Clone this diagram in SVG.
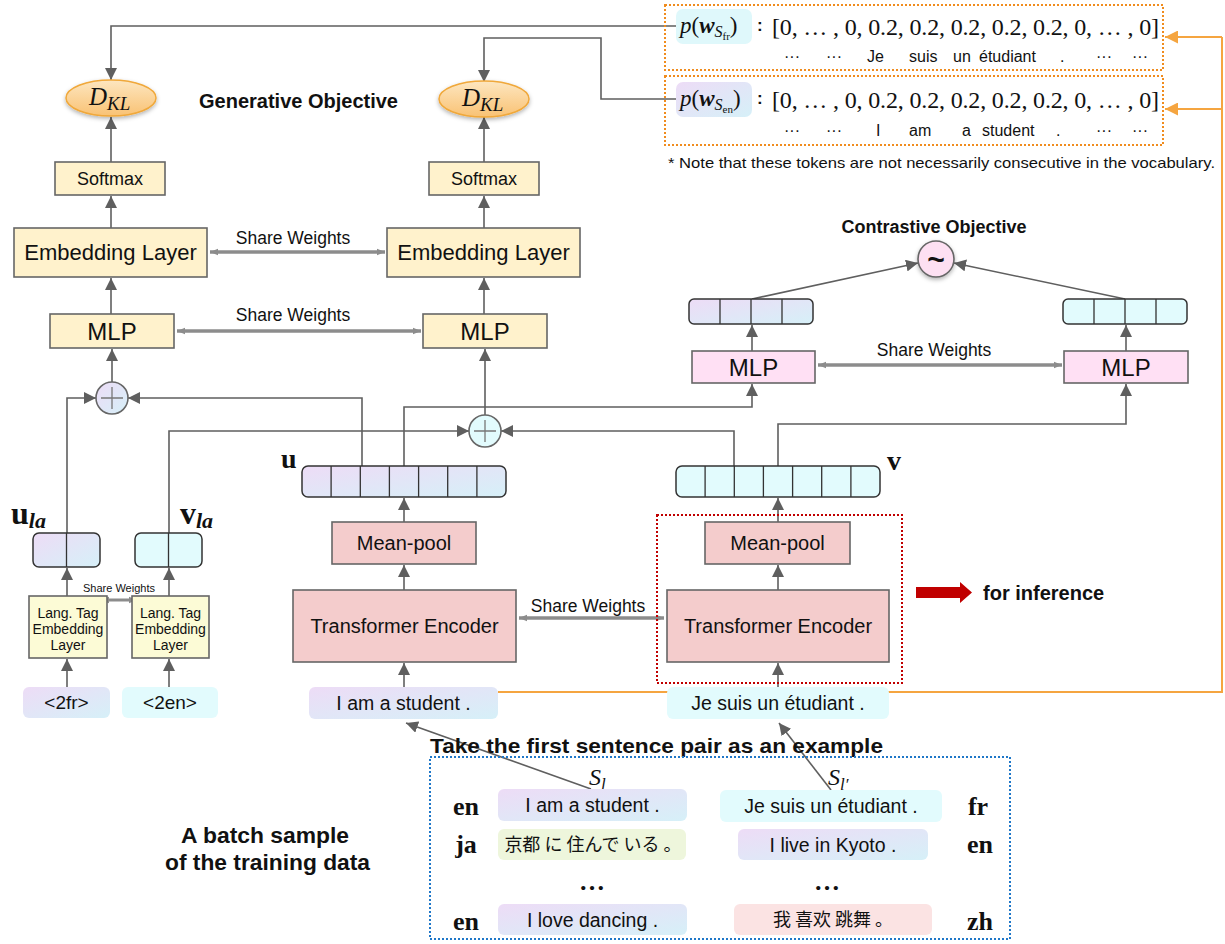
<svg xmlns="http://www.w3.org/2000/svg" width="1225" height="944" viewBox="0 0 1225 944">
<defs>
<style>
.sans{font-family:"Liberation Sans",Arial,sans-serif;fill:#111}
.serif{font-family:"Liberation Serif","Times New Roman",serif;fill:#111}
.cjk{font-family:"Noto Sans CJK JP","Noto Sans CJK SC",sans-serif;fill:#111}
.bold{font-weight:bold}
.mid{text-anchor:middle}
.conn{fill:none;stroke:#5f5f5f;stroke-width:1.6}
.arr{marker-end:url(#ah)}
.share{fill:none;stroke:#8c8c8c;stroke-width:3.5;marker-start:url(#sh);marker-end:url(#sh)}
.orange{fill:none;stroke:#f5a540;stroke-width:2}
.ybox{fill:#fff2cc;stroke:#666;stroke-width:1.6}
.lbox{fill:#fcfbd6;stroke:#666;stroke-width:1.6}
.pbox{fill:#f4cccc;stroke:#666;stroke-width:1.6}
.mbox{fill:#ffe0f4;stroke:#666;stroke-width:1.6}
.vec{stroke:#333;stroke-width:1.5}
.cell{stroke:#333;stroke-width:1.3}
.grad{fill:url(#lc)}
.cyan{fill:#e2fbfd}
</style>
<marker id="ah" viewBox="0 0 10 10" refX="10" refY="5" markerWidth="12" markerHeight="12" markerUnits="userSpaceOnUse" orient="auto"><path d="M0,0 L10,5 L0,10 z" fill="#5f5f5f"/></marker>
<marker id="oh" viewBox="0 0 10 10" refX="10" refY="5" markerWidth="13" markerHeight="13" markerUnits="userSpaceOnUse" orient="auto"><path d="M0,0 L10,5 L0,10 z" fill="#f5a540"/></marker>
<marker id="sh" viewBox="0 0 10 10" refX="10" refY="5" markerWidth="8" markerHeight="8" markerUnits="userSpaceOnUse" orient="auto-start-reverse"><path d="M0,1 L10,5 L0,9 z" fill="#8c8c8c"/></marker>
<linearGradient id="lc" x1="0" y1="0" x2="1" y2="1"><stop offset="0" stop-color="#eddcf6"/><stop offset="1" stop-color="#d6f0f8"/></linearGradient>
<linearGradient id="org" x1="0" y1="0" x2="0" y2="1"><stop offset="0" stop-color="#fde6c0"/><stop offset="1" stop-color="#f9c274"/></linearGradient>
<filter id="sd" x="-30%" y="-30%" width="160%" height="180%"><feDropShadow dx="0" dy="2" stdDeviation="2" flood-color="#000" flood-opacity="0.3"/></filter>
</defs>

<!-- connectors -->
<g id="connectors">
<polyline class="conn arr" points="676,26 111,26 111,80"/>
<polyline class="conn arr" points="676,99 601,99 601,38 484,38 484,82"/>
<line class="conn arr" x1="111" y1="162" x2="111" y2="117"/>
<line class="conn arr" x1="484" y1="162" x2="484" y2="117"/>
<line class="conn arr" x1="111" y1="228" x2="111" y2="196"/>
<line class="conn arr" x1="484" y1="228" x2="484" y2="196"/>
<line class="conn arr" x1="111" y1="314" x2="111" y2="278"/>
<line class="conn arr" x1="484" y1="314" x2="484" y2="278"/>
<line class="conn arr" x1="112" y1="382" x2="112" y2="349"/>
<line class="conn arr" x1="485" y1="415" x2="485" y2="349"/>
<polyline class="conn arr" points="67,533 67,398 96,398"/>
<polyline class="conn arr" points="362,466 362,398 128,398"/>
<polyline class="conn arr" points="169,533 169,431 469,431"/>
<polyline class="conn arr" points="734,466 734,431 501,431"/>
<polyline class="conn arr" points="404,466 404,407 752,407 752,384"/>
<polyline class="conn arr" points="778,466 778,424 1126,424 1126,384"/>
<line class="conn arr" x1="752" y1="351" x2="752" y2="325"/>
<line class="conn arr" x1="1126" y1="351" x2="1126" y2="325"/>
<line class="conn arr" x1="752" y1="299" x2="918" y2="263"/>
<line class="conn arr" x1="1125" y1="299" x2="954" y2="263"/>
<line class="conn arr" x1="404" y1="522" x2="404" y2="498"/>
<line class="conn arr" x1="778" y1="522" x2="778" y2="498"/>
<line class="conn arr" x1="404" y1="590" x2="404" y2="565"/>
<line class="conn arr" x1="778" y1="590" x2="778" y2="565"/>
<line class="conn arr" x1="404" y1="687" x2="404" y2="663"/>
<line class="conn arr" x1="778" y1="687" x2="778" y2="663"/>
<line class="conn arr" x1="67" y1="596" x2="67" y2="568"/>
<line class="conn arr" x1="169" y1="596" x2="169" y2="568"/>
<line class="conn arr" x1="67" y1="687" x2="67" y2="659"/>
<line class="conn arr" x1="169" y1="687" x2="169" y2="659"/>
<line class="conn arr" x1="591" y1="789" x2="406" y2="723"/>
<line class="conn arr" x1="831" y1="790" x2="779" y2="723"/>
<line class="share" x1="210" y1="252" x2="385" y2="252"/>
<line class="share" x1="177" y1="331" x2="421" y2="331"/>
<line class="share" x1="818" y1="365" x2="1062" y2="365"/>
<line class="share" x1="519" y1="618" x2="664" y2="618"/>
<line class="share" x1="101" y1="600" x2="137" y2="600" style="stroke-width:3"/>
<polyline class="orange" points="498,692 1222,692 1222,37"/>
<line class="orange" x1="1222" y1="37" x2="1165" y2="37" marker-end="url(#oh)"/>
<line class="orange" x1="1222" y1="109" x2="1165" y2="109" marker-end="url(#oh)"/>
</g>

<!-- top distributions -->
<g id="dist-fr">
<rect x="665" y="5" width="498" height="65" fill="none" stroke="#f08c1e" stroke-width="2" stroke-dasharray="2 2"/>
<rect x="676" y="9" width="76" height="35" rx="7" fill="#dff8fb"/>
<text class="serif" x="680" y="33" font-size="23"><tspan font-style="italic">p</tspan>(<tspan font-style="italic" font-weight="bold">w</tspan><tspan font-style="italic" font-size="16" dy="4">S</tspan><tspan font-size="11" dy="3">fr</tspan><tspan dy="-7">)</tspan></text>
<text class="sans bold" x="757" y="31" font-size="17">:</text>
<text class="serif" x="772" y="35" font-size="24" textLength="387" lengthAdjust="spacing">[0, … , 0, 0.2, 0.2, 0.2, 0.2, 0.2, 0, … , 0]</text>
<g class="sans" font-size="16">
<text x="784" y="62">···</text><text x="826" y="62">···</text>
<text x="867" y="62">Je</text><text x="909" y="62">suis</text><text x="953" y="62">un</text><text x="979" y="62">étudiant</text><text x="1060" y="62">.</text>
<text x="1096" y="62">···</text><text x="1132" y="62">···</text>
</g>
</g>
<g id="dist-en">
<rect x="665" y="76" width="498" height="69" fill="none" stroke="#f08c1e" stroke-width="2" stroke-dasharray="2 2"/>
<rect x="676" y="82" width="76" height="35" rx="7" fill="url(#lc)"/>
<text class="serif" x="680" y="106" font-size="23"><tspan font-style="italic">p</tspan>(<tspan font-style="italic" font-weight="bold">w</tspan><tspan font-style="italic" font-size="16" dy="4">S</tspan><tspan font-size="11" dy="3">en</tspan><tspan dy="-7">)</tspan></text>
<text class="sans bold" x="757" y="104" font-size="17">:</text>
<text class="serif" x="772" y="108" font-size="24" textLength="387" lengthAdjust="spacing">[0, … , 0, 0.2, 0.2, 0.2, 0.2, 0.2, 0, … , 0]</text>
<g class="sans" font-size="16">
<text x="784" y="136">···</text><text x="826" y="136">···</text>
<text x="876" y="136">I</text><text x="909" y="136">am</text><text x="962" y="136">a</text><text x="982" y="136">student</text><text x="1056" y="136">.</text>
<text x="1096" y="136">···</text><text x="1132" y="136">···</text>
</g>
</g>
<text id="note" class="sans" x="668" y="168" font-size="14.5" textLength="547" lengthAdjust="spacingAndGlyphs">* Note that these tokens are not necessarily consecutive in the vocabulary.</text>

<!-- generative side -->
<g id="dkl-left">
<ellipse cx="111" cy="98" rx="45" ry="18" fill="url(#org)" stroke="#f0a83a" stroke-width="1.5" filter="url(#sd)"/>
<text class="serif" x="89" y="105" font-size="25" font-style="italic">D<tspan font-size="19" dy="5">KL</tspan></text>
</g>
<g id="dkl-right">
<ellipse cx="484" cy="99" rx="45" ry="18" fill="url(#org)" stroke="#f0a83a" stroke-width="1.5" filter="url(#sd)"/>
<text class="serif" x="462" y="106" font-size="25" font-style="italic">D<tspan font-size="19" dy="5">KL</tspan></text>
</g>
<text id="gen-title" class="sans bold" x="199" y="108" font-size="20">Generative Objective</text>
<g id="softmax-left"><rect class="ybox" x="55" y="162" width="110" height="33"/><text class="sans mid" x="110" y="185" font-size="18">Softmax</text></g>
<g id="softmax-right"><rect class="ybox" x="429" y="162" width="110" height="33"/><text class="sans mid" x="484" y="185" font-size="18">Softmax</text></g>
<g id="emb-left"><rect class="ybox" x="14" y="228" width="193" height="49"/><text class="sans mid" x="110.5" y="260" font-size="22">Embedding Layer</text></g>
<g id="emb-right"><rect class="ybox" x="387" y="228" width="193" height="49"/><text class="sans mid" x="483.5" y="260" font-size="22">Embedding Layer</text></g>
<text class="sans mid" x="293" y="244" font-size="17.5">Share Weights</text>
<g id="mlp-left"><rect class="ybox" x="50" y="314" width="124" height="34"/><text class="sans mid" x="112" y="339.5" font-size="24">MLP</text></g>
<g id="mlp-right"><rect class="ybox" x="423" y="314" width="124" height="34"/><text class="sans mid" x="485" y="339.5" font-size="24">MLP</text></g>
<text class="sans mid" x="293" y="321" font-size="17.5">Share Weights</text>
<g id="plus-left"><circle cx="112" cy="398" r="16" fill="url(#lc)" stroke="#666" stroke-width="1.6"/><path d="M101,398 H123 M112,387 V409" stroke="#777" stroke-width="1.3"/></g>
<g id="plus-right"><circle cx="485" cy="431" r="16" fill="#e2fbfd" stroke="#666" stroke-width="1.6"/><path d="M474,431 H496 M485,420 V442" stroke="#777" stroke-width="1.3"/></g>

<!-- contrastive side -->
<text id="con-title" class="sans bold mid" x="934" y="233" font-size="18">Contrastive Objective</text>
<g id="sim"><circle cx="936" cy="259" r="18" fill="#fde0f2" stroke="#666" stroke-width="1.6" filter="url(#sd)"/><text class="sans bold mid" x="936" y="270" font-size="30">~</text></g>
<g id="cvec-left"><rect class="vec grad" x="689" y="299" width="124" height="25" rx="5"/><path class="cell" d="M720,299V324M751,299V324M782,299V324"/></g>
<g id="cvec-right"><rect class="vec cyan" x="1063" y="299" width="124" height="25" rx="5"/><path class="cell" d="M1094,299V324M1125,299V324M1156,299V324"/></g>
<g id="cmlp-left"><rect class="mbox" x="692" y="351" width="123" height="32"/><text class="sans mid" x="753.5" y="375.5" font-size="24">MLP</text></g>
<g id="cmlp-right"><rect class="mbox" x="1064" y="351" width="124" height="32"/><text class="sans mid" x="1126" y="375.5" font-size="24">MLP</text></g>
<text class="sans mid" x="934" y="356" font-size="17.5">Share Weights</text>

<!-- sentence vectors -->
<g id="u-vec"><rect class="vec grad" x="302" y="466" width="204" height="31" rx="6"/><path class="cell" d="M331.1,466V497M360.3,466V497M389.4,466V497M418.6,466V497M447.7,466V497M476.9,466V497"/>
<text class="serif bold" x="281" y="468" font-size="28">u</text></g>
<g id="v-vec"><rect class="vec cyan" x="676" y="466" width="204" height="31" rx="6"/><path class="cell" d="M705.1,466V497M734.3,466V497M763.4,466V497M792.6,466V497M821.7,466V497M850.9,466V497"/>
<text class="serif bold" x="887" y="470" font-size="28">v</text></g>

<g id="meanpool-left"><rect class="pbox" x="332" y="522" width="144" height="42"/><text class="sans mid" x="404" y="550" font-size="20">Mean-pool</text></g>
<g id="meanpool-right"><rect class="pbox" x="705" y="522" width="145" height="42"/><text class="sans mid" x="777.5" y="550" font-size="20">Mean-pool</text></g>
<g id="enc-left"><rect class="pbox" x="293" y="590" width="223" height="72"/><text class="sans mid" x="404.5" y="633" font-size="20">Transformer Encoder</text></g>
<g id="enc-right"><rect class="pbox" x="667" y="590" width="222" height="72"/><text class="sans mid" x="778" y="633" font-size="20">Transformer Encoder</text></g>
<text class="sans mid" x="588" y="612" font-size="17.5">Share Weights</text>
<rect id="inference-box" x="657" y="515" width="245" height="168" fill="none" stroke="#c00000" stroke-width="2" stroke-dasharray="2 2"/>
<g id="inference"><polygon points="916,587 960,587 960,582 972,592.5 960,603 960,598 916,598" fill="#c00000"/><text class="sans bold" x="983" y="600" font-size="20">for inference</text></g>

<g id="sent-en"><rect x="309" y="687" width="189" height="32" rx="6" fill="url(#lc)"/><text class="sans mid" x="403.5" y="710" font-size="19.5">I am a student .</text></g>
<g id="sent-fr"><rect x="667" y="687" width="222" height="32" rx="6" fill="#e2fbfd"/><text class="sans mid" x="778" y="710" font-size="19.5">Je suis un étudiant .</text></g>

<!-- language tags -->
<g id="ula"><rect class="vec grad" x="33" y="533" width="67" height="34" rx="6"/><path class="cell" d="M66.5,533V567"/>
<text class="serif bold" x="11" y="524" font-size="32">u<tspan font-style="italic" font-size="22" dy="4">la</tspan></text></g>
<g id="vla"><rect class="vec cyan" x="135" y="533" width="67" height="34" rx="6"/><path class="cell" d="M168.5,533V567"/>
<text class="serif bold" x="180" y="524" font-size="32">v<tspan font-style="italic" font-size="22" dy="4">la</tspan></text></g>
<g id="tag-left"><rect class="lbox" x="29" y="596" width="78" height="62"/>
<text class="sans mid" x="68" y="618" font-size="14">Lang. Tag</text><text class="sans mid" x="68" y="634" font-size="14">Embedding</text><text class="sans mid" x="68" y="650" font-size="14">Layer</text></g>
<g id="tag-right"><rect class="lbox" x="132" y="596" width="77" height="62"/>
<text class="sans mid" x="170.5" y="618" font-size="14">Lang. Tag</text><text class="sans mid" x="170.5" y="634" font-size="14">Embedding</text><text class="sans mid" x="170.5" y="650" font-size="14">Layer</text></g>
<text class="sans mid" x="119" y="592" font-size="11">Share Weights</text>
<g id="tok-fr"><rect x="23" y="687" width="87" height="31" rx="6" fill="url(#lc)"/><text class="sans mid" x="66.5" y="709" font-size="19">&lt;2fr&gt;</text></g>
<g id="tok-en"><rect x="122" y="687" width="96" height="31" rx="6" fill="#e2fbfd"/><text class="sans mid" x="170" y="709" font-size="19">&lt;2en&gt;</text></g>

<!-- batch -->
<text id="take" class="sans bold" x="430" y="753" font-size="21" textLength="453" lengthAdjust="spacingAndGlyphs">Take the first sentence pair as an example</text>
<g id="batch-label"><text class="sans bold" x="181" y="843" font-size="21.5" textLength="168" lengthAdjust="spacingAndGlyphs">A batch sample</text><text class="sans bold" x="165" y="870" font-size="21.5" textLength="205" lengthAdjust="spacingAndGlyphs">of the training data</text></g>
<rect id="batch-box" x="430" y="757" width="580" height="182" fill="none" stroke="#1f77c8" stroke-width="2" stroke-dasharray="2 2"/>
<text class="serif" x="589" y="785" font-size="24" font-style="italic">S<tspan font-size="17" dy="5">l</tspan></text>
<text class="serif" x="828" y="785" font-size="24" font-style="italic">S<tspan font-size="17" dy="5">l′</tspan></text>
<g id="row1"><text class="serif bold mid" x="466" y="815" font-size="26">en</text>
<rect x="498" y="789" width="189" height="32" rx="6" fill="url(#lc)"/><text class="sans mid" x="592.5" y="812" font-size="19.5">I am a student .</text>
<rect x="720" y="790" width="222" height="32" rx="6" fill="#e2fbfd"/><text class="sans mid" x="831" y="813" font-size="19.5">Je suis un étudiant .</text>
<text class="serif bold mid" x="978" y="815" font-size="26">fr</text></g>
<g id="row2"><text class="serif bold mid" x="466" y="853" font-size="26">ja</text>
<rect x="498" y="829" width="188" height="31" rx="6" fill="#eef6dc"/><text class="cjk mid" x="593" y="851" font-size="18">京都 に 住んで いる 。</text>
<rect x="738" y="829" width="190" height="31" rx="6" fill="url(#lc)"/><text class="sans mid" x="833" y="852" font-size="19.5">I live in Kyoto .</text>
<text class="serif bold mid" x="980" y="853" font-size="26">en</text></g>
<g id="row3"><text class="serif bold mid" x="592" y="890" font-size="26">…</text><text class="serif bold mid" x="827" y="890" font-size="26">…</text></g>
<g id="row4"><text class="serif bold mid" x="466" y="930" font-size="26">en</text>
<rect x="498" y="904" width="189" height="31" rx="6" fill="url(#lc)"/><text class="sans mid" x="592.5" y="927" font-size="19.5">I love dancing .</text>
<rect x="734" y="904" width="198" height="31" rx="6" fill="#fbe3e3"/><text class="cjk mid" x="833" y="926" font-size="18">我 喜欢 跳舞 。</text>
<text class="serif bold mid" x="980" y="930" font-size="26">zh</text></g>
</svg>
